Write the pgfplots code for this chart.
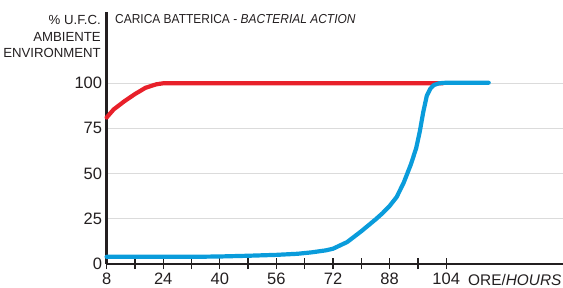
\documentclass[border=0pt]{standalone}
\usepackage{pgfplots}
\pgfplotsset{compat=1.18}
\usepackage{fontspec}
\setmainfont{Liberation Sans}
\newfontfamily\titlefont{Liberation Sans}[FakeStretch=0.92]
\definecolor{ink}{HTML}{231F20}
\definecolor{redline}{HTML}{E8202A}
\definecolor{blueline}{HTML}{0A9CDB}
\pgfplotstableread{
x y
8 81
10 85.5
13 90
16 94
19 97.5
22 99.4
24 100
103 100
}\redtab
\pgfplotstableread{
x y
8 3.8
16 3.8
24 3.8
32 3.8
40 4
48 4.4
56 4.9
62 5.5
66 6.3
70 7.4
72 8.3
76 12
80 18
84 24.5
86 28
88 32
90 37
92 45
94 55
95.5 64
96.5 73
97.5 84
98.5 93
99.5 97
100.5 99
102 100
104 100.3
116 100.3
}\bluetab
\begin{document}
\begin{tikzpicture}[x=1pt,y=1pt]
\path[use as bounding box] (0,0) rectangle (563,287);
\begin{axis}[
  at={(106.6pt,23.3pt)}, anchor=south west,
  scale only axis, width=467pt, height=251.7pt,
  xmin=8, xmax=140, ymin=0, ymax=139.5,
  axis x line=bottom, axis y line=left,
  x axis line style={-}, y axis line style={-},
  axis line style={ink, line width=2.2pt},
  xtick={8,16,...,104},
  xticklabels={8,,24,,40,,56,,72,,88,,104},
  ytick={0,25,50,75,100},
  ymajorgrids=true,
  grid style={black!14, line width=1.2pt},
  x tick style={ink, line width=1.3pt},
  y tick style={draw=none},
  tick align=center, major tick length=11pt,
  ticklabel style={font=\fontsize{16.5}{16.5}\selectfont, text=ink},
  xticklabel style={anchor=base, yshift=-15pt},
  yticklabel style={anchor=east, xshift=4.5pt},
  /pgf/number format/assume math mode=true,
  clip=false,
]
\addplot[redline, line width=4.2pt, line cap=round, line join=round] table[x=x,y=y] {\redtab};
\addplot[blueline, line width=4.2pt, line cap=round, line join=round] table[x=x,y=y] {\bluetab};
\end{axis}
\begin{scope}[every node/.style={inner sep=0pt, text=ink}]
\node[anchor=base west, font=\titlefont\fontsize{13}{13}\selectfont] at (115,263) {CARICA BATTERICA - \textit{BACTERIAL ACTION}};
\node[anchor=base east, font=\fontsize{13.2}{13.2}\selectfont] at (101,262) {\% U.F.C.};
\node[anchor=base east, font=\fontsize{13.2}{13.2}\selectfont] at (101,245) {AMBIENTE};
\node[anchor=base east, font=\fontsize{13.2}{13.2}\selectfont] at (101,229.5) {ENVIRONMENT};
\node[anchor=base west, font=\fontsize{15.4}{15.4}\selectfont] at (468,2) {ORE/\textit{HOURS}};
\end{scope}
\end{tikzpicture}
\end{document}
